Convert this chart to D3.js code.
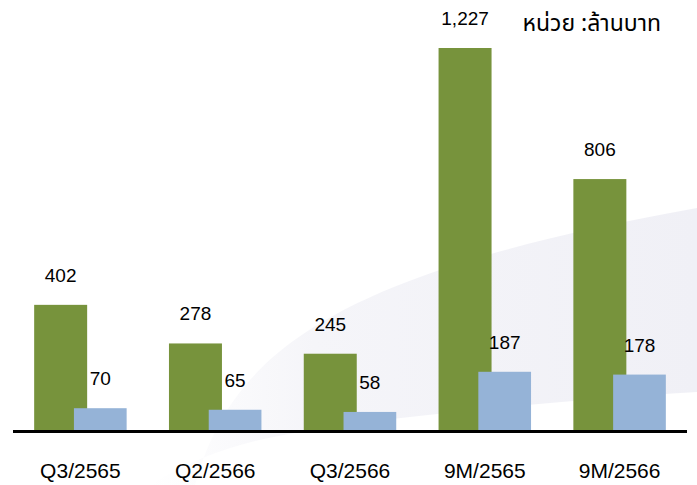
<!DOCTYPE html>
<html>
<head>
<meta charset="utf-8">
<script src="https://cdn.jsdelivr.net/npm/d3@7"></script>
<style>
  body { margin: 0; background: #fff; }
  svg { display: block; }
  .val { font-family: "Liberation Sans", Arial, sans-serif; font-size: 19px; fill: #000; }
  .cat { font-family: "Liberation Sans", Arial, sans-serif; font-size: 21px; fill: #000; }
  .unit { font-family: "Noto Sans Thai", Tahoma, "Noto Sans", sans-serif; font-size: 23px; font-weight: normal; fill: #000; }
</style>
</head>
<body>
<svg id="chart"></svg>
<script>
var categories = ['Q3/2565', 'Q2/2566', 'Q3/2566', '9M/2565', '9M/2566'];
var revenue = [402, 278, 245, 1227, 806];
var profit = [70, 65, 58, 187, 178];
var unitLabel = 'หน่วย :ล้านบาท';

var width = 697;
var height = 485;
var baseY = 430;

var svg = d3.select('#chart')
    .attr('width', width)
    .attr('height', height);

// faint swoosh in the background
var defs = svg.append('defs');
var grad = defs.append('linearGradient')
    .attr('id', 'swoosh')
    .attr('x1', '0%').attr('x2', '100%')
    .attr('y1', '0%').attr('y2', '0%');
grad.append('stop').attr('offset', '0%').attr('stop-color', '#ffffff');
grad.append('stop').attr('offset', '30%').attr('stop-color', '#f5f5f9');
grad.append('stop').attr('offset', '100%').attr('stop-color', '#f0f0f6');

svg.append('path')
    .attr('d', 'M195,485 C230,360 320,275 697,208 L697,392 C540,402 400,416 300,432 C240,442 200,455 150,485 Z')
    .attr('fill', 'url(#swoosh)');

var x = d3.scaleBand()
    .domain(categories)
    .range([13, 687])
    .paddingInner(0.314)
    .paddingOuter(0.157);

var y = d3.scaleLinear()
    .domain([0, 1227])
    .range([baseY, 48]);

var bw = x.bandwidth();
var greenW = bw * 0.573;
var blueOff = bw * 0.43;
var blueW = bw * 0.57;

var g = svg.append('g');

g.selectAll('rect.green')
    .data(revenue)
    .enter().append('rect')
    .attr('class', 'green')
    .attr('x', function(d, i) { return x(categories[i]); })
    .attr('y', function(d) { return y(d); })
    .attr('width', greenW)
    .attr('height', function(d) { return y(0) - y(d); })
    .attr('fill', '#77933c');

g.selectAll('rect.blue')
    .data(profit)
    .enter().append('rect')
    .attr('class', 'blue')
    .attr('x', function(d, i) { return x(categories[i]) + blueOff; })
    .attr('y', function(d) { return y(d); })
    .attr('width', blueW)
    .attr('height', function(d) { return y(0) - y(d); })
    .attr('fill', '#95b3d7');

g.selectAll('text.gv')
    .data(revenue)
    .enter().append('text')
    .attr('class', 'val gv')
    .attr('text-anchor', 'middle')
    .attr('x', function(d, i) { return x(categories[i]) + greenW / 2; })
    .attr('y', function(d) { return y(d) - 23; })
    .text(function(d) { return d3.format(',')(d); });

g.selectAll('text.bv')
    .data(profit)
    .enter().append('text')
    .attr('class', 'val bv')
    .attr('text-anchor', 'middle')
    .attr('x', function(d, i) { return x(categories[i]) + blueOff + blueW / 2; })
    .attr('y', function(d) { return y(d) - 23; })
    .text(function(d) { return d3.format(',')(d); });

// axis with the category labels
var axis = svg.append('g')
    .attr('transform', 'translate(0,' + baseY + ')')
    .call(d3.axisBottom(x).tickSize(0).tickPadding(0));
axis.select('.domain')
    .attr('d', 'M13,1.5H687')
    .attr('stroke', '#000')
    .attr('stroke-width', 3);
axis.selectAll('.tick text')
    .attr('class', 'cat')
    .attr('font-family', null)
    .attr('font-size', null)
    .attr('fill', null)
    .attr('dy', null)
    .attr('y', 48);

svg.append('text')
    .attr('class', 'unit')
    .attr('x', 661)
    .attr('y', 31)
    .attr('text-anchor', 'end')
    .text(unitLabel);
</script>
</body>
</html>
